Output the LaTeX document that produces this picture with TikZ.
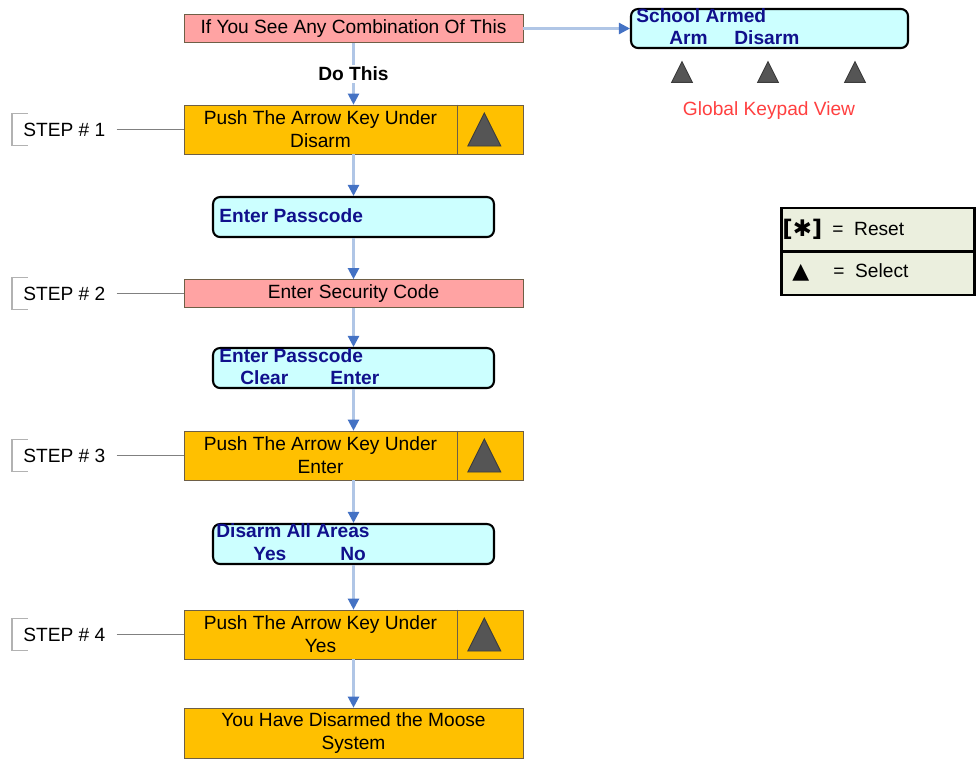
\documentclass[tikz,border=0pt]{standalone}
\usepackage{fontspec}
\setmainfont{Liberation Sans}
\newfontfamily\symfont{DejaVu Sans}
\usetikzlibrary{arrows.meta}

\definecolor{pinkfill}{RGB}{255,163,163}
\definecolor{orangefill}{RGB}{255,192,0}
\definecolor{screenfill}{RGB}{204,255,255}
\definecolor{screentext}{RGB}{16,16,140}
\definecolor{edgebrown}{RGB}{110,95,70}
\definecolor{flowline}{RGB}{176,198,230}
\definecolor{flowtip}{RGB}{68,114,196}
\definecolor{keygrey}{RGB}{85,85,85}
\definecolor{legendfill}{RGB}{235,239,222}
\definecolor{viewred}{RGB}{255,64,64}

\newcommand\boxfont{\fontsize{10.9}{13}\selectfont}

\tikzset{
  pinkbox/.style={draw=edgebrown, fill=pinkfill, minimum width=6.78cm, minimum height=0.56cm, inner sep=0pt, font=\boxfont},
  orangebox/.style={draw=edgebrown, fill=orangefill, minimum width=6.78cm, minimum height=0.98cm, inner sep=0pt, align=center, font=\boxfont},
  boxtext/.style={align=center, inner sep=0pt, font=\boxfont},
  screen/.style={draw=black, line width=1.2pt, rounded corners=4pt, fill=screenfill, minimum width=5.62cm, minimum height=0.8cm},
  screentxt/.style={anchor=base west, inner sep=0pt, text=screentext, font=\boxfont\bfseries},
  steptag/.style={anchor=west, inner xsep=0.22cm, minimum height=0.64cm, font=\boxfont},
  tagbracket/.style={draw=gray!60, line width=0.6pt},
  tagline/.style={draw=gray, line width=0.5pt},
  flow/.style={draw=flowline, line width=1.3pt, -{Triangle[length=0.22cm, width=0.22cm, color=flowtip]}},
  keytri/.pic={\filldraw[fill=keygrey, draw=keygrey!70!black, line width=0.5pt]
    (-0.33cm,-0.33cm) -- (0.33cm,-0.33cm) -- (0cm,0.33cm) -- cycle;},
  legendbox/.style={draw=black, line width=1.5pt, fill=legendfill, minimum width=3.86cm, minimum height=1.74cm}
}

\begin{document}
\begin{tikzpicture}[x=0.02cm, y=-0.02cm]
\useasboundingbox (0,0) rectangle (979,762);

% what the keypad shows
\node[pinkbox] (top) at (353.5,28.5) {If You See Any Combination Of This};
\node[screen, minimum width=5.54cm, minimum height=0.78cm] (kp) at (769.5,28.5) {};
\node[screentxt] (kp1) at (636,22.5) {School Armed};
\node[screentxt] (kp2) at (669,44.5) {Arm};
\node[screentxt] (kp3) at (734,44.5) {Disarm};
\foreach \x in {682,768,855}
{
    \pic[scale=0.63] at (\x,72) {keytri};
}
\node[text=viewred, font=\boxfont] (view) at (769,111) {Global Keypad View};
\draw[flow] (top) -- (kp);

% legend
\node[legendbox] (legend) at (878,251.5) {};
\draw[black, line width=1.5pt] (legend.west) -- (legend.east);
\node[anchor=base west, inner sep=0pt, font=\symfont\bfseries\fontsize{13}{15}\selectfont] (star) at (782,236) {[✱]};
\node[anchor=base west, inner sep=0pt, font=\boxfont] (reset) at (832,235) {=~~Reset};
\node[anchor=base west, inner sep=0pt, font=\symfont\fontsize{12.5}{14}\selectfont] (tri) at (792,278) {▲};
\node[anchor=base west, inner sep=0pt, font=\boxfont] (select) at (833,277) {=~~Select};

% the steps
\node[orangebox] (s1) at (353.5,129.5) {};
\node[boxtext] (s1t) at ([xshift=-0.66cm]s1.center) {Push The Arrow Key Under\\Disarm};
\draw[edgebrown] ([xshift=-1.32cm]s1.north east) -- ([xshift=-1.32cm]s1.south east);
\pic at ([xshift=-0.78cm]s1.east) {keytri};

\node[screen] (scr1) at (353.5,217) {};
\node[screentxt] (scr1a) at (219,222) {Enter Passcode};

\node[pinkbox] (s2) at (353.5,293.5) {Enter Security Code};

\node[screen] (scr2) at (353.5,368) {};
\node[screentxt] (scr2a) at (219,362) {Enter Passcode};
\node[screentxt] (scr2b) at (240,384) {Clear};
\node[screentxt] (scr2c) at (330,384) {Enter};

\node[orangebox] (s3) at (353.5,455.5) {};
\node[boxtext] (s3t) at ([xshift=-0.66cm]s3.center) {Push The Arrow Key Under\\Enter};
\draw[edgebrown] ([xshift=-1.32cm]s3.north east) -- ([xshift=-1.32cm]s3.south east);
\pic at ([xshift=-0.78cm]s3.east) {keytri};

\node[screen] (scr3) at (353.5,544) {};
\node[screentxt] (scr3a) at (216,537) {Disarm All Areas};
\node[screentxt] (scr3b) at (253,560) {Yes};
\node[screentxt] (scr3c) at (340,560) {No};

\node[orangebox] (s4) at (353.5,634.5) {};
\node[boxtext] (s4t) at ([xshift=-0.66cm]s4.center) {Push The Arrow Key Under\\Yes};
\draw[edgebrown] ([xshift=-1.32cm]s4.north east) -- ([xshift=-1.32cm]s4.south east);
\pic at ([xshift=-0.78cm]s4.east) {keytri};

\node[orangebox, minimum height=1cm] (fin) at (353.5,733) {You Have Disarmed the Moose\\System};

% flow
\draw[flow] (top) -- node[fill=white, inner sep=1pt, font=\boxfont\bfseries]{Do This} (s1);
\draw[flow] (s1) -- (scr1);
\draw[flow] (scr1) -- (s2);
\draw[flow] (s2) -- (scr2);
\draw[flow] (scr2) -- (s3);
\draw[flow] (s3) -- (scr3);
\draw[flow] (scr3) -- (s4);
\draw[flow] (s4) -- (fin);

% step tags
\node[steptag] (t1) at (12,129.5) {STEP \# 1};
\node[steptag] (t2) at (12,293.5) {STEP \# 2};
\node[steptag] (t3) at (12,455.5) {STEP \# 3};
\node[steptag] (t4) at (12,634.5) {STEP \# 4};
\foreach \t/\s in {t1/s1,t2/s2,t3/s3,t4/s4}
{
    \draw[tagbracket] ([xshift=0.32cm]\t.north west) -- (\t.north west) -- (\t.south west) -- ([xshift=0.32cm]\t.south west);
    \draw[tagline] (\t.east) -- (\s.west);
}
\end{tikzpicture}
\end{document}
